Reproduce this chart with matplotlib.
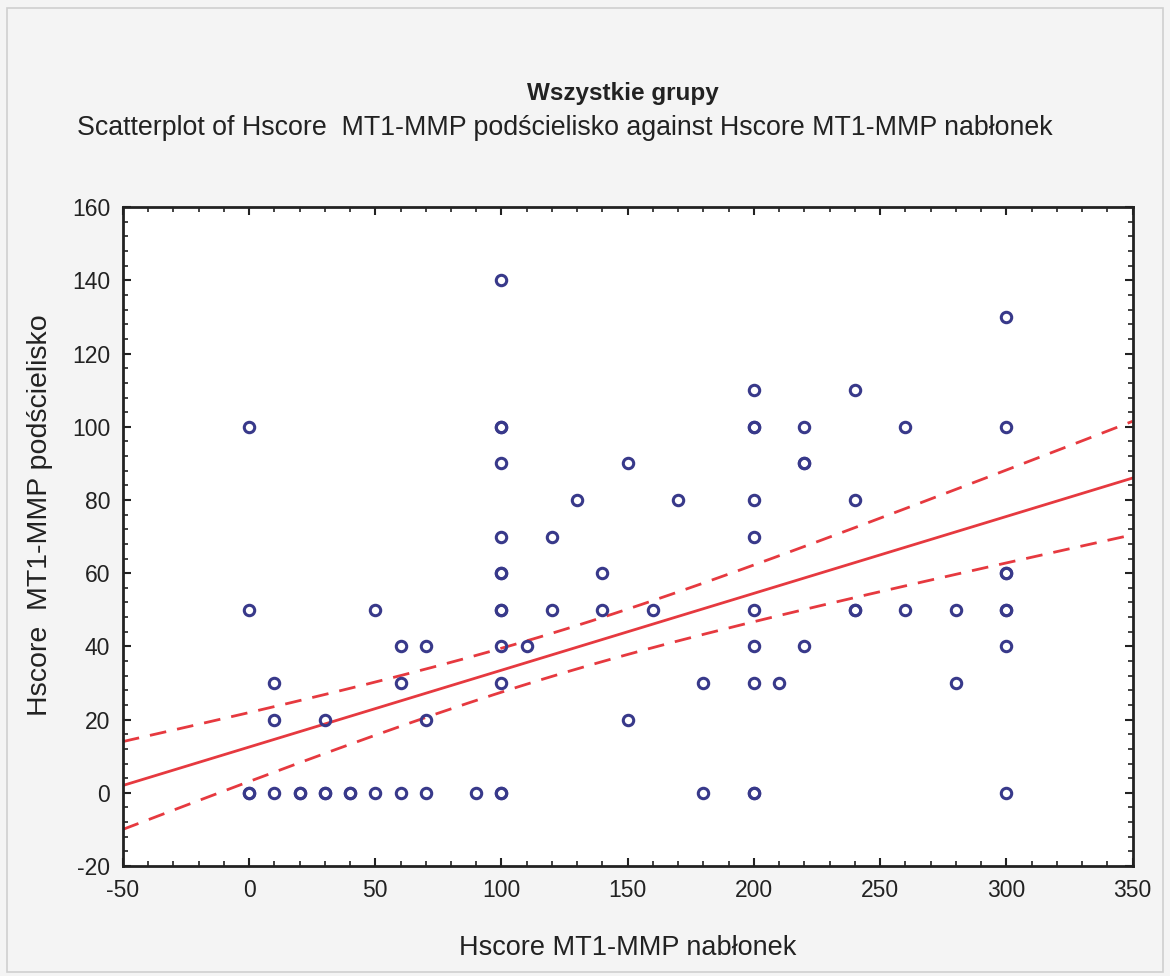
import numpy as np
import matplotlib
matplotlib.use("Agg")
import matplotlib.pyplot as plt
from matplotlib.ticker import MultipleLocator
from matplotlib.patches import Rectangle

plt.rcParams['font.family'] = ['Liberation Sans', 'DejaVu Sans']
plt.rcParams['axes.unicode_minus'] = False

title_main = "Wszystkie grupy"
title_sub = "Scatterplot of Hscore  MT1-MMP podścielisko against Hscore MT1-MMP nabłonek"
xlabel = "Hscore MT1-MMP nabłonek"
ylabel = "Hscore  MT1-MMP podścielisko"

# x: Hscore MT1-MMP nabłonek, y: Hscore MT1-MMP podścielisko
nablonek = [0, 0, 0, 0,
            10, 10, 10,
            20, 20,
            30, 30, 30,
            40, 40,
            50, 50,
            60, 60, 60,
            70, 70, 70,
            90,
            100, 100, 100, 100, 100, 100, 100, 100, 100, 100, 100, 100, 100,
            110,
            120, 120,
            130,
            140, 140,
            150, 150,
            160,
            170,
            180, 180,
            200, 200, 200, 200, 200, 200, 200, 200, 200, 200,
            210,
            220, 220, 220, 220,
            240, 240, 240, 240,
            260, 260,
            280, 280,
            300, 300, 300, 300, 300, 300, 300, 300]
podscielisko = [100, 50, 0, 0,
                30, 20, 0,
                0, 0,
                20, 0, 0,
                0, 0,
                50, 0,
                40, 30, 0,
                40, 20, 0,
                0,
                140, 100, 100, 90, 70, 60, 60, 50, 50, 40, 30, 0, 0,
                40,
                70, 50,
                80,
                60, 50,
                90, 20,
                50,
                80,
                30, 0,
                110, 100, 100, 80, 70, 50, 40, 30, 0, 0,
                30,
                100, 90, 90, 40,
                110, 80, 50, 50,
                100, 50,
                50, 30,
                130, 100, 60, 60, 50, 50, 40, 0]

# regression fit and 95% confidence band
fit_x = [-50, 100, 350]
fit_y = [2.0, 33.5, 86.0]
band_upper = [13.0, 39.0, 102.0]
band_lower = [-11.0, 27.0, 71.0]

x = np.array(nablonek, dtype=float)
y = np.array(podscielisko, dtype=float)

fig = plt.figure(figsize=(11.7, 9.76), dpi=100, facecolor='#f4f4f4')
fig.patches.append(Rectangle((0.006, 0.004), 0.988, 0.988, transform=fig.transFigure,
                             fill=False, edgecolor='#cfcfcf', linewidth=1.2))
ax = fig.add_axes([0.105, 0.1127, 0.863, 0.675])
ax.set_facecolor('white')

xs = np.linspace(-50, 350, 200)
slope = (fit_y[2] - fit_y[0]) / (fit_x[2] - fit_x[0])
intercept = fit_y[0] - slope * fit_x[0]
line = intercept + slope * xs
h = [(u - l) / 2 for u, l in zip(band_upper, band_lower)]
A = np.array([[1, fit_x[i] ** 2, -2 * fit_x[i]] for i in range(3)], dtype=float)
rhs = np.array([hh ** 2 for hh in h])
a0, b, c = np.linalg.solve(A, rhs)
hw = np.sqrt(np.maximum(a0 + b * xs ** 2 - 2 * c * xs, 0))

red = '#e6393f'
ax.plot(xs, line, color=red, linewidth=2.0, zorder=2)
ax.plot(xs, line + hw, color=red, linewidth=2.0, linestyle=(0, (6, 4)), zorder=2)
ax.plot(xs, line - hw, color=red, linewidth=2.0, linestyle=(0, (6, 4)), zorder=2)

ax.plot(x, y, linestyle='none', marker='o', markersize=7.5, markerfacecolor='none',
        markeredgecolor='#38398a', markeredgewidth=2.2, zorder=3)

ax.set_xlim(-50, 350)
ax.set_ylim(-20, 160)
ax.xaxis.set_major_locator(MultipleLocator(50))
ax.xaxis.set_minor_locator(MultipleLocator(10))
ax.yaxis.set_major_locator(MultipleLocator(20))
ax.yaxis.set_minor_locator(MultipleLocator(4))
ax.tick_params(which='both', direction='in', top=True, right=True, color='#222222')
ax.tick_params(which='major', length=6, width=1.5, labelsize=16.5, pad=9, labelcolor='#222222')
ax.tick_params(which='minor', length=3.5, width=1.2)
for s in ax.spines.values():
    s.set_linewidth(2.0)
    s.set_color('#222222')

fig.text(0.532, 0.904, title_main, ha='center', va='center', fontsize=17.5, fontweight='bold', color='#222222')
fig.text(0.483, 0.869, title_sub, ha='center', va='center', fontsize=19.3, color='#222222')
ax.set_xlabel(xlabel, fontsize=19.5, labelpad=24, color='#222222')
ax.set_ylabel(ylabel, fontsize=20.5, color='#222222', va='center')
ax.yaxis.set_label_coords(-0.082, 0.533)

fig.savefig('out.png', dpi=100, facecolor=fig.get_facecolor())
